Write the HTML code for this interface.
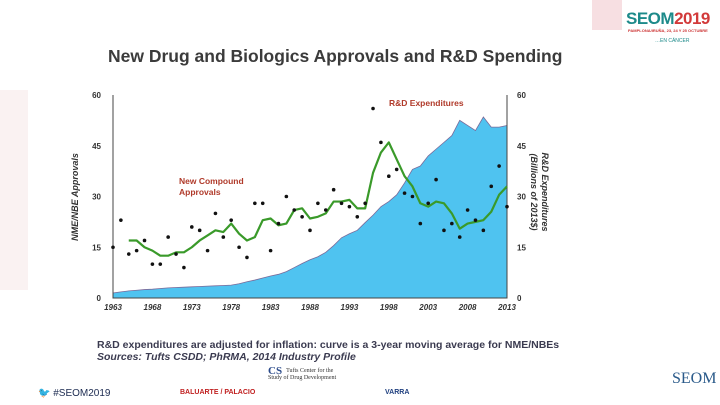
<!DOCTYPE html>
<html><head><meta charset="utf-8"><style>
body{margin:0;width:720px;height:405px;overflow:hidden;background:#fff;font-family:"Liberation Sans",sans-serif;position:relative}
.abs{position:absolute}
</style></head><body>
<div class="abs" style="left:0;top:90px;width:28px;height:200px;background:#f6e9ea;opacity:.6"></div>
<div class="abs" style="left:592px;top:0;width:30px;height:30px;background:#f7dfe2"></div>
<div class="abs" style="left:626px;top:9px;font-weight:bold;font-size:17px;letter-spacing:-0.5px"><span style="color:#1d8a8a">SEOM</span><span style="color:#d23a3a">2019</span></div>
<div class="abs" style="left:628px;top:28px;font-size:4px;color:#c33;font-weight:bold">PAMPLONA/IRUÑA, 23, 24 Y 25 OCTUBRE</div>
<div class="abs" style="left:655px;top:38px;font-size:5px;color:#1d8a8a">…EN CÁNCER</div>
<div class="abs" style="left:108px;top:46px;font-size:17.5px;font-weight:bold;color:#3b3b3b;white-space:nowrap">New Drug and Biologics Approvals and R&amp;D Spending</div>

<svg class="abs" style="left:0;top:0" width="720" height="405" id="chart"></svg>

<div class="abs" style="left:97px;top:339px;font-size:10.5px;font-weight:bold;color:#3b3b50;white-space:nowrap">R&amp;D expenditures are adjusted for inflation: curve is a 3-year moving average for NME/NBEs</div>
<div class="abs" style="left:97px;top:351px;font-size:10.5px;font-weight:bold;font-style:italic;color:#3b3b50;white-space:nowrap">Sources: Tufts CSDD; PhRMA, 2014 Industry Profile</div>
<div class="abs" style="left:38px;top:388px;font-size:10px;color:#1b2a50;white-space:nowrap"><span style="color:#1f6fb5">🐦</span> #SEOM2019</div>
<div class="abs" style="left:180px;top:389px;font-size:7px;font-weight:bold;color:#c02020">BALUARTE / PALACIO</div>
<div class="abs" style="left:268px;top:368px;font-size:6px;color:#333;font-family:'Liberation Serif',serif;line-height:7px"><b style="font-size:11px;color:#2a4a8a;float:left;margin-right:4px">CS</b>Tufts Center for the<br>Study of Drug Development</div>
<div class="abs" style="left:385px;top:389px;font-size:7px;font-weight:bold;color:#1f3f7f">VARRA</div>
<div class="abs" style="left:672px;top:370px;font-size:16px;color:#2a5a8a;font-family:'Liberation Serif',serif">SEOM</div>

<script>
const years=[];for(let y=1963;y<=2013;y++)years.push(y);
const approvals=[15,23,13,14,17,10,10,18,13,9,21,20,14,25,18,23,15,12,28,28,14,22,30,26,24,20,28,26,32,28,27,24,28,56,46,36,38,31,30,22,28,35,20,22,18,26,23,20,33,39,27];
const avgYears=[];for(let y=1965;y<=2013;y++)avgYears.push(y);
const movingAvg=[17,17,15,14,12.5,12.5,13.5,13.5,15,17,18.5,20,19.5,22,19,17,18,23,23.5,21.5,22,26,26.5,23.5,24,25,28.5,28.5,29,26.5,26.5,37,43,46,41,36,33,28,27,28.5,28,25,20.5,22,22.5,23,25.5,30.5,33];
const rnd=[1.5,1.8,2.1,2.3,2.5,2.6,2.8,3.0,3.1,3.2,3.3,3.4,3.5,3.6,3.7,3.8,4.2,4.8,5.3,5.9,6.5,7.0,7.8,9.0,10.2,11.3,12.2,13.5,15.5,17.8,19,20,22.3,24.5,27,28.5,30.5,34,38,39,42,44,46,48,52.5,51,49.5,53.5,50.5,50.5,51];
const yTicks=[0,15,30,45,60];
const xTicks=[1963,1968,1973,1978,1983,1988,1993,1998,2003,2008,2013];

const svg=document.getElementById('chart');const NS='http://www.w3.org/2000/svg';
const X0=113,X1=507,Y0=298,Y1=95;
const sx=y=>X0+(y-1963)/(2013-1963)*(X1-X0);
const sy=v=>Y0-v/60*(Y0-Y1);
function mk(t,a,p){const e=document.createElementNS(NS,t);for(const k in a)e.setAttribute(k,a[k]);(p||svg).appendChild(e);return e;}

let d='M'+sx(1963)+','+sy(0);
years.forEach((y,i)=>{d+=' L'+sx(y)+','+sy(rnd[i]);});
d+=' L'+sx(2013)+','+sy(0)+'Z';
const area=mk('path',{d:d,fill:'#4fc3f0',stroke:'#7a6a9a','stroke-width':0.8});



const ax=mk('path',{d:`M${X0},${Y1}V${Y0}H${X1}V${Y1}`,fill:'none',stroke:'#444','stroke-width':1});



yTicks.forEach(v=>{
 const l=mk('text',{x:X0-12,y:sy(v)+3,'text-anchor':'end','font-size':8,'font-weight':'bold',fill:'#333'});l.textContent=v;
 
 
 const r=mk('text',{x:X1+10,y:sy(v)+3,'text-anchor':'start','font-size':8,'font-weight':'bold',fill:'#333'});r.textContent=v;
 
 
});
xTicks.forEach(y=>{
 const t=mk('text',{x:sx(y),y:Y0+12,'text-anchor':'middle','font-size':8,'font-weight':'bold','font-style':'italic',fill:'#333'});t.textContent=y;
 
 
});

let ld='';avgYears.forEach((y,i)=>{ld+=(i?' L':'M')+sx(y)+','+sy(movingAvg[i]);});
const line=mk('path',{d:ld,fill:'none',stroke:'#3a9a2a','stroke-width':2.2,'stroke-linejoin':'round'});



years.forEach((y,i)=>{
 const c=mk('circle',{cx:sx(y),cy:sy(approvals[i]),r:1.8,fill:'#111'});
 
 
});

const lt=mk('text',{transform:`translate(78,197) rotate(-90)`,'text-anchor':'middle','font-size':9,'font-weight':'bold','font-style':'italic',fill:'#333'});lt.textContent='NME/NBE Approvals';


const rt=mk('text',{transform:`translate(542,192) rotate(90)`,'text-anchor':'middle','font-size':9,'font-weight':'bold','font-style':'italic',fill:'#333'});
const r1=mk('tspan',{x:0,dy:0},rt);r1.textContent='R&D Expenditures';
const r2=mk('tspan',{x:0,dy:11},rt);r2.textContent='(Billions of 2013$)';



const a1=mk('text',{x:389,y:106,'font-size':8.5,'font-weight':'bold',fill:'#b03a2a'});a1.textContent='R&D Expenditures';


const a2=mk('text',{x:179,y:184,'font-size':8.5,'font-weight':'bold',fill:'#b03a2a'});
const t1=mk('tspan',{x:179,dy:0},a2);t1.textContent='New Compound';
const t2=mk('tspan',{x:179,dy:11},a2);t2.textContent='Approvals';


</script>
</body></html>
